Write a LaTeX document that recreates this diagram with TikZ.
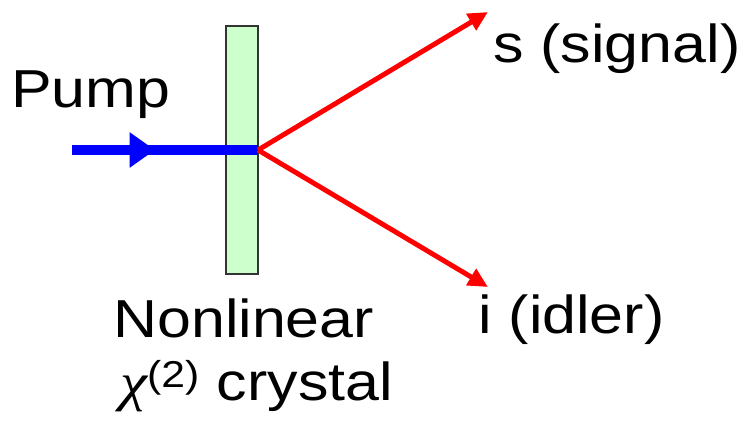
\documentclass[tikz,border=0pt]{standalone}
\usepackage{fontspec}
\setmainfont{Liberation Sans}
\newfontfamily\grkfont{Liberation Serif}
\usetikzlibrary{arrows.meta}
\definecolor{CrystalClr}{rgb}{0.8,1,0.8}
\definecolor{EdgeClr}{rgb}{0.2,0.2,0.2}

\begin{document}
\begin{tikzpicture}[x=0.025cm,y=-0.025cm,
  lbl/.style={inner sep=0pt,anchor=base west,font=\fontsize{38}{46}\selectfont,xscale=1.14,transform shape},
  pumpbeam/.style={line width=7.4pt,blue},
  beam/.style={line width=3.5pt,red,-{Triangle[length=14pt,width=13pt]}}]
\useasboundingbox (0,0) rectangle (748,429);

\node[draw=EdgeClr,fill=CrystalClr,line width=1.6pt,inner sep=0pt,outer sep=0pt,
  minimum width=22.8pt,minimum height=176.4pt] (crystal) at (242,150) {};

\coordinate (pin) at (72,150);
\coordinate (pmid) at (155,150);
\coordinate (sig) at (488,12);
\coordinate (idl) at (488,287);

\draw[pumpbeam] (pin) -- (crystal.east);
\draw[pumpbeam,-{Triangle[length=18pt,width=24pt]}] (pin) -- (pmid);

\draw[beam] (crystal.east) -- (sig);
\draw[beam] (crystal.east) -- (idl);

\node[lbl] (pump) at (11,107) {Pump};
\node[lbl] (signal) at (493,62) {s (signal)};
\node[lbl] (idler) at (478,333) {i (idler)};
\node[lbl] (name) at (113,337) {Nonlinear};
\node[lbl] (kind) at (120,400) {{\grkfont\itshape χ}\textsuperscript{(2)} crystal};
\end{tikzpicture}
\end{document}
